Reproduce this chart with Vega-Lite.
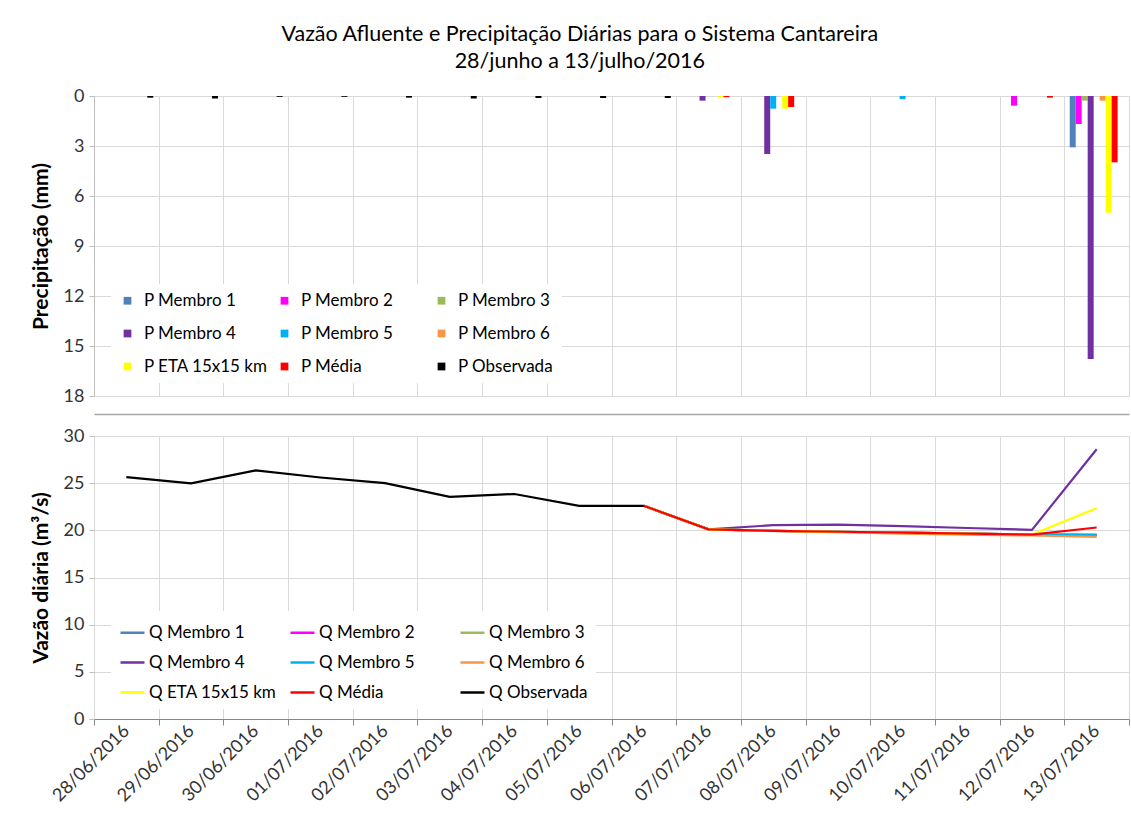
{
  "$schema": "https://vega.github.io/schema/vega-lite/v6.json",
  "background": "white",
  "padding": {"left": 30, "top": 23, "right": 2, "bottom": 2},
  "config": {
    "font": "Lato",
    "view": {"stroke": null},
    "axis": {"labelFont": "Lato", "titleFont": "Lato", "labelColor": "#333333", "titleColor": "#000000", "gridColor": "#d9d9d9", "domainColor": "#bfbfbf", "tickColor": "#bfbfbf", "labelFontSize": 18, "titleFontSize": 21, "titleFontWeight": "bold"},
    "legend": {"labelFont": "Lato", "labelColor": "#000000"}
  },
  "title": {
    "text": ["Vazão Afluente e Precipitação Diárias para o Sistema Cantareira", "28/junho a 13/julho/2016"],
    "fontSize": 21.5, "fontWeight": "normal", "lineHeight": 27, "anchor": "middle", "color": "#000000", "offset": 15, "font": "Lato"
  },
  "datasets": {
    "precip": [
      {"data": "28/06/2016", "serie": "P Observada", "valor": 0.1},
      {"data": "29/06/2016", "serie": "P Observada", "valor": 0.15},
      {"data": "30/06/2016", "serie": "P Observada", "valor": 0.05},
      {"data": "01/07/2016", "serie": "P Observada", "valor": 0.05},
      {"data": "02/07/2016", "serie": "P Observada", "valor": 0.1},
      {"data": "03/07/2016", "serie": "P Observada", "valor": 0.15},
      {"data": "04/07/2016", "serie": "P Observada", "valor": 0.12},
      {"data": "05/07/2016", "serie": "P Observada", "valor": 0.12},
      {"data": "06/07/2016", "serie": "P Observada", "valor": 0.12},
      {"data": "07/07/2016", "serie": "P Membro 4", "valor": 0.28},
      {"data": "07/07/2016", "serie": "P ETA 15x15 km", "valor": 0.07},
      {"data": "07/07/2016", "serie": "P Média", "valor": 0.07},
      {"data": "08/07/2016", "serie": "P Membro 4", "valor": 3.48},
      {"data": "08/07/2016", "serie": "P Membro 5", "valor": 0.76},
      {"data": "08/07/2016", "serie": "P ETA 15x15 km", "valor": 0.76},
      {"data": "08/07/2016", "serie": "P Média", "valor": 0.66},
      {"data": "10/07/2016", "serie": "P Membro 5", "valor": 0.18},
      {"data": "12/07/2016", "serie": "P Membro 2", "valor": 0.58},
      {"data": "12/07/2016", "serie": "P Média", "valor": 0.1},
      {"data": "13/07/2016", "serie": "P Membro 1", "valor": 3.08},
      {"data": "13/07/2016", "serie": "P Membro 2", "valor": 1.68},
      {"data": "13/07/2016", "serie": "P Membro 3", "valor": 0.28},
      {"data": "13/07/2016", "serie": "P Membro 4", "valor": 15.78},
      {"data": "13/07/2016", "serie": "P Membro 6", "valor": 0.28},
      {"data": "13/07/2016", "serie": "P ETA 15x15 km", "valor": 7.0},
      {"data": "13/07/2016", "serie": "P Média", "valor": 3.98}
    ],
    "vazao": [
      {"data": "06/07/2016", "serie": "Q Membro 1", "vazao": 22.6},
      {"data": "07/07/2016", "serie": "Q Membro 1", "vazao": 20.1},
      {"data": "08/07/2016", "serie": "Q Membro 1", "vazao": 19.95},
      {"data": "09/07/2016", "serie": "Q Membro 1", "vazao": 19.85},
      {"data": "10/07/2016", "serie": "Q Membro 1", "vazao": 19.75},
      {"data": "11/07/2016", "serie": "Q Membro 1", "vazao": 19.65},
      {"data": "12/07/2016", "serie": "Q Membro 1", "vazao": 19.55},
      {"data": "13/07/2016", "serie": "Q Membro 1", "vazao": 19.55},
      {"data": "06/07/2016", "serie": "Q Membro 2", "vazao": 22.6},
      {"data": "07/07/2016", "serie": "Q Membro 2", "vazao": 20.1},
      {"data": "08/07/2016", "serie": "Q Membro 2", "vazao": 19.95},
      {"data": "09/07/2016", "serie": "Q Membro 2", "vazao": 19.85},
      {"data": "10/07/2016", "serie": "Q Membro 2", "vazao": 19.75},
      {"data": "11/07/2016", "serie": "Q Membro 2", "vazao": 19.65},
      {"data": "12/07/2016", "serie": "Q Membro 2", "vazao": 19.55},
      {"data": "13/07/2016", "serie": "Q Membro 2", "vazao": 19.5},
      {"data": "06/07/2016", "serie": "Q Membro 3", "vazao": 22.6},
      {"data": "07/07/2016", "serie": "Q Membro 3", "vazao": 20.1},
      {"data": "08/07/2016", "serie": "Q Membro 3", "vazao": 19.95},
      {"data": "09/07/2016", "serie": "Q Membro 3", "vazao": 19.85},
      {"data": "10/07/2016", "serie": "Q Membro 3", "vazao": 19.75},
      {"data": "11/07/2016", "serie": "Q Membro 3", "vazao": 19.65},
      {"data": "12/07/2016", "serie": "Q Membro 3", "vazao": 19.55},
      {"data": "13/07/2016", "serie": "Q Membro 3", "vazao": 19.45},
      {"data": "06/07/2016", "serie": "Q Membro 4", "vazao": 22.6},
      {"data": "07/07/2016", "serie": "Q Membro 4", "vazao": 20.1},
      {"data": "08/07/2016", "serie": "Q Membro 4", "vazao": 20.55},
      {"data": "09/07/2016", "serie": "Q Membro 4", "vazao": 20.6},
      {"data": "10/07/2016", "serie": "Q Membro 4", "vazao": 20.45},
      {"data": "11/07/2016", "serie": "Q Membro 4", "vazao": 20.25},
      {"data": "12/07/2016", "serie": "Q Membro 4", "vazao": 20.05},
      {"data": "13/07/2016", "serie": "Q Membro 4", "vazao": 28.6},
      {"data": "06/07/2016", "serie": "Q Membro 5", "vazao": 22.6},
      {"data": "07/07/2016", "serie": "Q Membro 5", "vazao": 20.1},
      {"data": "08/07/2016", "serie": "Q Membro 5", "vazao": 19.95},
      {"data": "09/07/2016", "serie": "Q Membro 5", "vazao": 19.85},
      {"data": "10/07/2016", "serie": "Q Membro 5", "vazao": 19.75},
      {"data": "11/07/2016", "serie": "Q Membro 5", "vazao": 19.65},
      {"data": "12/07/2016", "serie": "Q Membro 5", "vazao": 19.55},
      {"data": "13/07/2016", "serie": "Q Membro 5", "vazao": 19.5},
      {"data": "06/07/2016", "serie": "Q Membro 6", "vazao": 22.6},
      {"data": "07/07/2016", "serie": "Q Membro 6", "vazao": 20.1},
      {"data": "08/07/2016", "serie": "Q Membro 6", "vazao": 19.95},
      {"data": "09/07/2016", "serie": "Q Membro 6", "vazao": 19.82},
      {"data": "10/07/2016", "serie": "Q Membro 6", "vazao": 19.66},
      {"data": "11/07/2016", "serie": "Q Membro 6", "vazao": 19.55},
      {"data": "12/07/2016", "serie": "Q Membro 6", "vazao": 19.45},
      {"data": "13/07/2016", "serie": "Q Membro 6", "vazao": 19.3},
      {"data": "06/07/2016", "serie": "Q ETA 15x15 km", "vazao": 22.6},
      {"data": "07/07/2016", "serie": "Q ETA 15x15 km", "vazao": 20.1},
      {"data": "08/07/2016", "serie": "Q ETA 15x15 km", "vazao": 19.95},
      {"data": "09/07/2016", "serie": "Q ETA 15x15 km", "vazao": 19.85},
      {"data": "10/07/2016", "serie": "Q ETA 15x15 km", "vazao": 19.75},
      {"data": "11/07/2016", "serie": "Q ETA 15x15 km", "vazao": 19.65},
      {"data": "12/07/2016", "serie": "Q ETA 15x15 km", "vazao": 19.55},
      {"data": "13/07/2016", "serie": "Q ETA 15x15 km", "vazao": 22.35},
      {"data": "06/07/2016", "serie": "Q Média", "vazao": 22.6},
      {"data": "07/07/2016", "serie": "Q Média", "vazao": 20.1},
      {"data": "08/07/2016", "serie": "Q Média", "vazao": 19.95},
      {"data": "09/07/2016", "serie": "Q Média", "vazao": 19.85},
      {"data": "10/07/2016", "serie": "Q Média", "vazao": 19.75},
      {"data": "11/07/2016", "serie": "Q Média", "vazao": 19.65},
      {"data": "12/07/2016", "serie": "Q Média", "vazao": 19.55},
      {"data": "13/07/2016", "serie": "Q Média", "vazao": 20.3},
      {"data": "28/06/2016", "serie": "Q Observada", "vazao": 25.65},
      {"data": "29/06/2016", "serie": "Q Observada", "vazao": 24.97},
      {"data": "30/06/2016", "serie": "Q Observada", "vazao": 26.35},
      {"data": "01/07/2016", "serie": "Q Observada", "vazao": 25.6},
      {"data": "02/07/2016", "serie": "Q Observada", "vazao": 25.0},
      {"data": "03/07/2016", "serie": "Q Observada", "vazao": 23.55},
      {"data": "04/07/2016", "serie": "Q Observada", "vazao": 23.85},
      {"data": "05/07/2016", "serie": "Q Observada", "vazao": 22.6},
      {"data": "06/07/2016", "serie": "Q Observada", "vazao": 22.6}
    ]
  },
  "spacing": 13,
  "resolve": {"scale": {"color": "independent"}, "legend": {"color": "independent"}},
  "vconcat": [
    {
      "width": 1035,
      "height": 300,
      "data": {"name": "precip"},
      "mark": {"type": "bar"},
      "encoding": {
        "x": {
          "field": "data", "type": "ordinal",
          "scale": {"domain": ["28/06/2016","29/06/2016","30/06/2016","01/07/2016","02/07/2016","03/07/2016","04/07/2016","05/07/2016","06/07/2016","07/07/2016","08/07/2016","09/07/2016","10/07/2016","11/07/2016","12/07/2016","13/07/2016"], "paddingInner": 0, "paddingOuter": 0},
          "axis": {"title": null, "labels": false, "ticks": false, "grid": true, "tickBand": "extent", "domain": true, "domainColor": "#a6a6a6", "domainWidth": 1.5, "offset": 18}
        },
        "xOffset": {
          "field": "serie", "type": "nominal",
          "scale": {"domain": ["P Membro 1","P Membro 2","P Membro 3","P Membro 4","P Membro 5","P Membro 6","P ETA 15x15 km","P Média","P Observada"], "paddingInner": 0, "paddingOuter": 0.9}
        },
        "y": {
          "field": "valor", "type": "quantitative",
          "scale": {"domain": [0, 18], "reverse": true, "nice": false},
          "axis": {"title": "Precipitação (mm)", "values": [0, 3, 6, 9, 12, 15, 18], "titlePadding": 12, "tickSize": 5, "labelPadding": 5, "domain": true}
        },
        "color": {
          "field": "serie", "type": "nominal",
          "scale": {"domain": ["P Membro 1","P Membro 2","P Membro 3","P Membro 4","P Membro 5","P Membro 6","P ETA 15x15 km","P Média","P Observada"],
                    "range": ["#4F81BD","#FF00FF","#9BBB59","#7030A0","#00B0F0","#F79646","#FFFF00","#FF0000","#000000"]},
          "legend": {"title": null, "orient": "none", "direction": "horizontal", "legendX": 17, "legendY": 188, "columns": 3, "gridAlign": "all", "fillColor": "white", "padding": 8,
                     "symbolType": "square", "symbolSize": 60, "labelFontSize": 17, "labelOffset": 8, "columnPadding": 8, "rowPadding": 15}
        }
      }
    },
    {
      "width": 1035,
      "height": 283,
      "data": {"name": "vazao"},
      "mark": {"type": "line", "strokeWidth": 2.2},
      "encoding": {
        "x": {
          "field": "data", "type": "ordinal", "bandPosition": 0.5,
          "scale": {"type": "band", "domain": ["28/06/2016","29/06/2016","30/06/2016","01/07/2016","02/07/2016","03/07/2016","04/07/2016","05/07/2016","06/07/2016","07/07/2016","08/07/2016","09/07/2016","10/07/2016","11/07/2016","12/07/2016","13/07/2016"], "paddingInner": 0, "paddingOuter": 0},
          "axis": {"title": null, "labelAngle": -45, "labelAlign": "right", "labelBaseline": "middle", "labelFontSize": 18, "tickBand": "extent", "grid": true, "domainColor": "#868686", "tickColor": "#868686", "tickSize": 6, "labelPadding": 3}
        },
        "y": {
          "field": "vazao", "type": "quantitative",
          "scale": {"domain": [0, 30], "nice": false},
          "axis": {"title": "Vazão diária (m³/s)", "values": [0, 5, 10, 15, 20, 25, 30], "titlePadding": 12, "tickSize": 5, "labelPadding": 5, "domain": false}
        },
        "color": {
          "field": "serie", "type": "nominal",
          "scale": {"domain": ["Q Membro 1","Q Membro 2","Q Membro 3","Q Membro 4","Q Membro 5","Q Membro 6","Q ETA 15x15 km","Q Média","Q Observada"],
                    "range": ["#4F81BD","#FF00FF","#9BBB59","#7030A0","#00B0F0","#F79646","#FFFF00","#FF0000","#000000"]},
          "legend": {"title": null, "orient": "none", "direction": "horizontal", "legendX": 17, "legendY": 175, "columns": 3, "gridAlign": "all", "fillColor": "white", "padding": 8,
                     "symbolType": "stroke", "symbolSize": 576, "symbolStrokeWidth": 2.5, "labelFontSize": 17, "labelOffset": 3, "columnPadding": 8, "rowPadding": 8}
        },
        "order": {"value": null}
      }
    }
  ]
}
